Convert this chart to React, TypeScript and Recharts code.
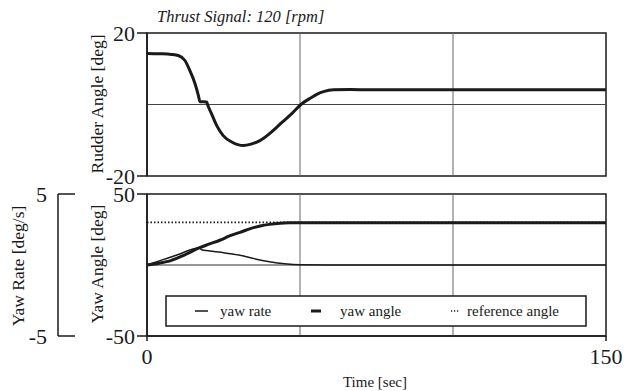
import React from 'react';
import { LineChart, Line, XAxis, YAxis, ReferenceArea, ReferenceLine } from 'recharts';

// values
const rudderTime = [0, 4, 8, 10.2, 12.4, 14, 15.7, 16.8, 17.3, 19.5, 19.9, 21.1, 22.8, 24.9, 27.7, 31.5, 34, 36.9, 40.8, 44.1, 47.4, 50.3, 53.6, 55.8, 57.7, 61, 66.5, 73, 90, 120, 150];
const rudderAngle = [14.3, 14.2, 14.0, 13.7, 12.3, 9.5, 5.8, 2.5, 0.8, 0.7, -0.3, -2.6, -5.9, -8.7, -10.5, -11.5, -11.1, -10.1, -7.6, -5.0, -2.5, 0, 1.9, 3.0, 3.6, 4.1, 4.2, 4.1, 4.1, 4.1, 4.1];

const yawAngleTime = [0, 4, 8, 12, 17, 20, 24, 27, 30.4, 34, 37, 40, 43.5, 47, 50, 60, 150];
const yawAngle = [0, 1.3, 3.3, 6.8, 12, 14.5, 17.6, 20.5, 23, 25.8, 27.5, 28.6, 29.4, 29.7, 29.8, 29.8, 29.8];

const yawRateTime = [0, 5, 10, 17, 18, 20, 25, 30, 35, 40, 45, 50, 60, 150];
const yawRate = [0, 0.36, 0.72, 1.2, 1.05, 1.0, 0.87, 0.7, 0.45, 0.23, 0.08, 0.01, 0, 0];

const referenceTime = [0, 150];
const referenceAngle = [30, 30];

const timeTicks = [0, 150];
const gridTimes = [50, 100];
const rudderTicks = [-20, 20];
const yawAngleTicks = [-50, 50];
const yawRateTicks = [-5, 5];
const seriesNames = ['yaw rate', 'yaw angle', 'reference angle'];

const FONT = '"Liberation Serif", "Times New Roman", Times, serif';
const INK = '#1a1a1a';

const toPoints = (ts: number[], vs: number[]) => ts.map((t, i) => ({ t, v: vs[i] }));

const rudderData = toPoints(rudderTime, rudderAngle);
const yawAngleData = toPoints(yawAngleTime, yawAngle);
const yawRateData = toPoints(yawRateTime, yawRate);
const referenceData = toPoints(referenceTime, referenceAngle);

const tickStyle = { fill: INK, fontSize: 22, fontFamily: FONT, style: { fontFamily: FONT } };

// bracket style axis for the yaw rate
const RateTick = ({ x, y, payload }: any) => (
  <g>
    <line x1={x} x2={x + 17} y1={y} y2={y} stroke={INK} strokeWidth={1.5} />
    <text x={x - 11} y={y} textAnchor="end" dominantBaseline="central" fontSize={22} style={{ fontFamily: FONT }} fill={INK}>
      {payload.value}
    </text>
  </g>
);

export default function App() {
  return (
    <div style={{ position: 'absolute', left: 0, top: 0, width: 626, height: 391, background: '#fff', fontFamily: FONT }}>
      {/* rudder angle */}
      <div style={{ position: 'absolute', left: 0, top: 0 }}>
        <LineChart width={626} height={192} margin={{ top: 33, right: 20, bottom: 16, left: 0 }} style={{ fontFamily: FONT }}>
          <XAxis type="number" dataKey="t" domain={[0, 150]} hide allowDuplicatedCategory={false} />
          <YAxis
            type="number"
            domain={[-20, 20]}
            ticks={rudderTicks}
            interval={0}
            width={147}
            tickSize={10}
            tickMargin={2}
            tick={tickStyle}
            tickLine={{ stroke: INK, strokeWidth: 1.5 }}
            axisLine={{ stroke: INK, strokeWidth: 1.5 }}
          />
          {gridTimes.map(g => (
            <ReferenceLine key={g} x={g} stroke="#666" strokeWidth={1} />
          ))}
          <ReferenceLine y={0} stroke="#444" strokeWidth={1} />
          <ReferenceArea x1={0} x2={150} y1={-20} y2={20} fill="none" fillOpacity={0} stroke={INK} strokeWidth={1.5} />
          <Line data={rudderData} dataKey="v" type="monotone" stroke={INK} strokeWidth={3} dot={false} isAnimationActive={false} />
        </LineChart>
      </div>

      {/* yaw angle / yaw rate */}
      <div style={{ position: 'absolute', left: 0, top: 180 }}>
        <LineChart width={626} height={211} margin={{ top: 14, right: 20, bottom: 25, left: 0 }} style={{ fontFamily: FONT }}>
          <XAxis
            type="number"
            dataKey="t"
            domain={[0, 150]}
            ticks={timeTicks}
            interval={0}
            height={30}
            tickSize={5}
            tickMargin={7}
            tick={tickStyle}
            tickLine={{ stroke: INK, strokeWidth: 1.5 }}
            axisLine={{ stroke: INK, strokeWidth: 1.5 }}
            allowDuplicatedCategory={false}
          />
          <YAxis
            yAxisId="angle"
            type="number"
            domain={[-50, 50]}
            ticks={yawAngleTicks}
            interval={0}
            width={89}
            tickSize={10}
            tickMargin={2}
            tick={tickStyle}
            tickLine={{ stroke: INK, strokeWidth: 1.5 }}
            axisLine={{ stroke: INK, strokeWidth: 1.5 }}
          />
          <YAxis
            yAxisId="rate"
            type="number"
            domain={[-5, 5]}
            ticks={yawRateTicks}
            interval={0}
            width={58}
            tickSize={0}
            tickMargin={0}
            tickLine={false}
            tick={<RateTick />}
            axisLine={{ stroke: INK, strokeWidth: 1.5 }}
          />
          {gridTimes.map(g => (
            <ReferenceLine key={g} yAxisId="angle" x={g} stroke="#666" strokeWidth={1} />
          ))}
          <ReferenceLine yAxisId="angle" y={0} stroke="#333" strokeWidth={1.2} />
          <ReferenceArea yAxisId="angle" x1={0} x2={150} y1={-50} y2={50} fill="none" fillOpacity={0} stroke={INK} strokeWidth={1.5} />
          <Line yAxisId="angle" data={referenceData} dataKey="v" type="linear" stroke={INK} strokeWidth={1.6} strokeDasharray="1.5 2" dot={false} isAnimationActive={false} />
          <Line yAxisId="rate" data={yawRateData} dataKey="v" type="monotone" stroke={INK} strokeWidth={1.5} dot={false} isAnimationActive={false} />
          <Line yAxisId="angle" data={yawAngleData} dataKey="v" type="monotone" stroke={INK} strokeWidth={3} dot={false} isAnimationActive={false} />
        </LineChart>
      </div>

      {/* titles and legend */}
      <svg width={626} height={391} style={{ position: 'absolute', left: 0, top: 0, pointerEvents: 'none', fontFamily: FONT }} fill={INK}>
        <text x={157} y={22} fontSize={16.5} fontStyle="italic">Thrust Signal: 120 [rpm]</text>
        <text x={97} y={104} fontSize={17.5} textAnchor="middle" dominantBaseline="central" transform="rotate(-90 97 104)">Rudder Angle [deg]</text>
        <text x={97} y={264} fontSize={17.5} textAnchor="middle" dominantBaseline="central" transform="rotate(-90 97 264)">Yaw Angle [deg]</text>
        <text x={18} y={266} fontSize={17.5} textAnchor="middle" dominantBaseline="central" transform="rotate(-90 18 266)">Yaw Rate [deg/s]</text>
        <text x={375} y={387} fontSize={15} textAnchor="middle">Time [sec]</text>

        <rect x={166} y={296} width={420} height={30} fill="#fff" stroke={INK} strokeWidth={1.5} />
        <line x1={195} x2={208} y1={311} y2={311} stroke={INK} strokeWidth={1.5} />
        <text x={220} y={316} fontSize={15}>{seriesNames[0]}</text>
        <line x1={311} x2={321} y1={311} y2={311} stroke={INK} strokeWidth={3} />
        <text x={340} y={316} fontSize={15}>{seriesNames[1]}</text>
        <line x1={451} x2={459} y1={311} y2={311} stroke={INK} strokeWidth={1.5} strokeDasharray="1.2 1.8" />
        <text x={467} y={316} fontSize={15}>{seriesNames[2]}</text>
      </svg>
    </div>
  );
}
